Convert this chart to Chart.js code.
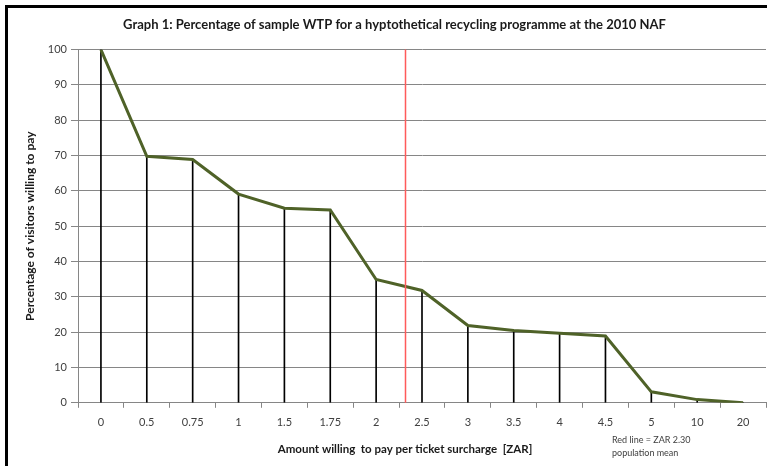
<!DOCTYPE html>
<html>
<head>
<meta charset="utf-8">
<script src="https://cdn.jsdelivr.net/npm/chart.js@4/dist/chart.umd.min.js"></script>
<style>
  body { margin: 0; background: #fff; }
  #wrap { position: relative; width: 767px; height: 466px; }
  #frameTop { position: absolute; left: 5px; top: 5px; width: 762px; height: 3px; background: #000; }
  #frameLeft { position: absolute; left: 5px; top: 5px; width: 3px; height: 461px; background: #000; }
</style>
</head>
<body>
<div id="wrap">
  <canvas id="wtpChart" width="767" height="466"></canvas>
  <div id="frameTop"></div>
  <div id="frameLeft"></div>
</div>
<script>
const amounts = ['0', '0.5', '0.75', '1', '1.5', '1.75', '2', '2.5', '3', '3.5', '4', '4.5', '5', '10', '20'];
const pctWilling = [100, 69.8, 68.9, 59.1, 55.1, 54.6, 34.9, 31.8, 21.9, 20.5, 19.7, 18.9, 3.1, 0.9, 0];
const yTicks = [0, 10, 20, 30, 40, 50, 60, 70, 80, 90, 100];
const meanIndex = 6.63; // ZAR 2.30 sits between "2" and "2.5"
const xTitle = 'Amount willing  to pay per ticket surcharge  [ZAR]';
const noteLines = ['Red line = ZAR 2.30', 'population mean'];

const FONT = 'Lato, "Open Sans", sans-serif';

const meanLine = {
    id: 'meanLine',
    afterDatasetsDraw(chart) {
        const { ctx, chartArea, scales } = chart;
        const x = Math.round(scales.x.getPixelForValue(meanIndex)) + 0.5;
        ctx.save();
        ctx.strokeStyle = '#ff5a5a';
        ctx.lineWidth = 1.5;
        ctx.beginPath();
        ctx.moveTo(x, chartArea.top);
        ctx.lineTo(x, chartArea.bottom);
        ctx.stroke();
        ctx.restore();
    },
    afterDraw(chart) {
        const ctx = chart.ctx;
        ctx.save();
        ctx.textBaseline = 'middle';
        ctx.fillStyle = '#1a1a1a';
        ctx.font = 'bold 11.5px ' + FONT;
        ctx.textAlign = 'center';
        ctx.fillText(xTitle, 405, 449);
        ctx.fillStyle = '#404040';
        ctx.font = '9px ' + FONT;
        ctx.textAlign = 'left';
        ctx.fillText(noteLines[0], 612, 440);
        ctx.fillText(noteLines[1], 612, 453);
        ctx.restore();
    }
};

new Chart(document.getElementById('wtpChart'), {
    data: {
        labels: amounts,
        datasets: [
            {
                type: 'line',
                data: pctWilling,
                borderColor: '#4f6228',
                borderWidth: 3,
                pointRadius: 0,
                tension: 0,
                order: 0
            },
            {
                type: 'bar',
                data: pctWilling,
                backgroundColor: '#000',
                barThickness: 1,
                order: 1
            }
        ]
    },
    options: {
        responsive: false,
        animation: false,
        layout: { padding: { top: 0, right: 1, bottom: 29, left: 23 } },
        plugins: {
            legend: { display: false },
            tooltip: { enabled: false },
            title: {
                display: true,
                text: 'Graph 1: Percentage of sample WTP for a hyptothetical recycling programme at the 2010 NAF',
                color: '#1a1a1a',
                font: { family: FONT, size: 13, weight: 'bold' },
                padding: { top: 17, bottom: 17 }
            }
        },
        scales: {
            x: {
                type: 'category',
                offset: true,
                grid: { display: true, offset: true, drawOnChartArea: false, color: '#868686', tickLength: 5 },
                border: { color: '#868686' },
                ticks: { color: '#404040', font: { family: FONT, size: 11 }, padding: 8, maxRotation: 0, autoSkip: false }
            },
            y: {
                min: 0,
                max: 100,
                afterBuildTicks(scale) { scale.ticks = yTicks.map(v => ({ value: v })); },
                afterFit(scale) { scale.width = 55; },
                grid: { color: '#868686', tickLength: 7 },
                border: { color: '#868686' },
                ticks: { color: '#404040', font: { family: FONT, size: 11 }, padding: 4 },
                title: {
                    display: true,
                    text: 'Percentage of visitors willing to pay',
                    color: '#1a1a1a',
                    font: { family: FONT, size: 12, weight: 'bold' },
                    padding: { top: 0, bottom: 8 }
                }
            }
        }
    },
    plugins: [meanLine]
});
</script>
</body>
</html>
